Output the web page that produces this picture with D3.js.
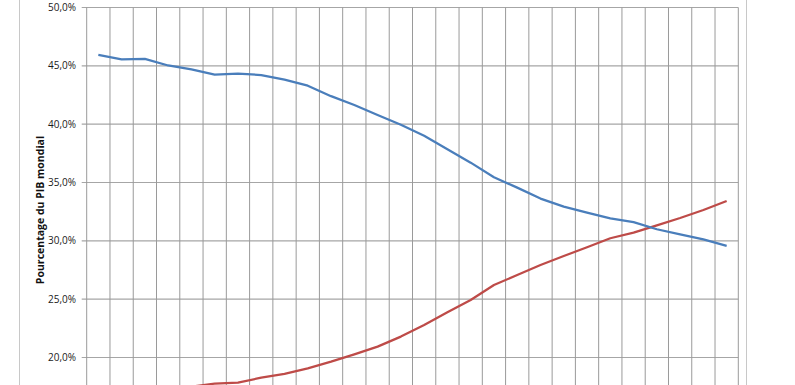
<!DOCTYPE html>
<html>
<head>
<meta charset="utf-8">
<script src="https://cdn.jsdelivr.net/npm/d3@7"></script>
<style>
	html, body { margin: 0; padding: 0; background: #fff; overflow: hidden; }
	svg { display: block; }
	.tick-label { font-family: "Open Sans", sans-serif; font-size: 10px; fill: #1a1a1a; }
	.axis-title { font-family: "Open Sans", sans-serif; font-size: 10.5px; font-weight: bold; fill: #111; }
</style>
</head>
<body>
<div id="chart"></div>
<script>
(function () {
	// categories (x axis labels are cut off in the picture)
	let years = [1980,1981,1982,1983,1984,1985,1986,1987,1988,1989,1990,1991,1992,1993,
		1994,1995,1996,1997,1998,1999,2000,2001,2002,2003,2004,2005,2006,2007];

	// share of world GDP, in percent
	let seriesBlue = [45.93,45.56,45.59,45.03,44.70,44.24,44.33,44.21,43.81,43.30,42.40,41.64,40.79,39.95,
		39.00,37.85,36.70,35.45,34.56,33.62,32.93,32.41,31.93,31.60,30.99,30.56,30.13,29.57];
	let seriesRed = [17.20,17.10,17.00,17.20,17.50,17.76,17.84,18.27,18.59,19.07,19.64,20.27,20.93,21.79,
		22.79,23.88,24.93,26.21,27.07,27.93,28.70,29.45,30.22,30.70,31.33,31.96,32.64,33.41];

	let yTicks = [0,0.05,0.10,0.15,0.20,0.25,0.30,0.35,0.40,0.45,0.50];
	// only these labels are visible in the cropped picture
	let yLabels = [0.20,0.25,0.30,0.35,0.40,0.45,0.50];

	let globalVars = {};
	globalVars.width = 795;
	globalVars.height = 385;
	globalVars.plotLeft = 86.7;
	globalVars.plotRight = 738.3;
	globalVars.plotTop = 7.5;
	globalVars.plotBottom = 590.8;

	let frLocale = d3.formatLocale({decimal: ",", thousands: " ", grouping: [3], currency: ["", " €"]});
	let pctFormat = frLocale.format(".1%");

	let svg = d3.select("#chart")
		.append("svg")
		.attr("width", globalVars.width)
		.attr("height", globalVars.height);

	let x = d3.scaleBand()
		.domain(years)
		.range([globalVars.plotLeft, globalVars.plotRight]);

	let y = d3.scaleLinear()
		.domain([0, 0.5])
		.range([globalVars.plotBottom, globalVars.plotTop]);

	// chart frame
	svg.append("line")
		.attr("x1", 19.5).attr("x2", 19.5)
		.attr("y1", 0).attr("y2", globalVars.height)
		.attr("stroke", "#c8c8c8").attr("stroke-width", 1);
	svg.append("line")
		.attr("x1", 746.5).attr("x2", 746.5)
		.attr("y1", 0).attr("y2", globalVars.height)
		.attr("stroke", "#c8c8c8").attr("stroke-width", 1);

	// horizontal gridlines + ticks
	svg.append("g")
		.selectAll("line")
		.data(yTicks)
		.enter()
		.append("line")
		.attr("x1", globalVars.plotLeft - 5)
		.attr("x2", globalVars.plotRight)
		.attr("y1", function(d){ return y(d); })
		.attr("y2", function(d){ return y(d); })
		.attr("stroke", "#a6a6a6")
		.attr("stroke-width", 1.2);

	// vertical gridlines at category boundaries
	let boundaries = years.map(function(d){ return x(d); }).concat([globalVars.plotRight]);
	svg.append("g")
		.selectAll("line")
		.data(boundaries)
		.enter()
		.append("line")
		.attr("x1", function(d){ return d; })
		.attr("x2", function(d){ return d; })
		.attr("y1", globalVars.plotTop)
		.attr("y2", globalVars.plotBottom)
		.attr("stroke", "#9a9a9a")
		.attr("stroke-width", 1);

	// y labels
	svg.append("g")
		.selectAll("text")
		.data(yLabels)
		.enter()
		.append("text")
		.attr("class", "tick-label")
		.attr("x", 76)
		.attr("y", function(d){ return y(d); })
		.attr("dy", "0.35em")
		.attr("text-anchor", "end")
		.text(function(d){ return pctFormat(d); });

	svg.append("text")
		.attr("class", "axis-title")
		.attr("transform", "translate(44,210) rotate(-90)")
		.attr("text-anchor", "middle")
		.text("Pourcentage du PIB mondial");

	let line = d3.line()
		.x(function(d, i){ return x(years[i]) + x.bandwidth() / 2; })
		.y(function(d){ return y(d / 100); });

	svg.append("path")
		.datum(seriesRed)
		.attr("d", line)
		.attr("fill", "none")
		.attr("stroke", "#be4b48")
		.attr("stroke-width", 2.25)
		.attr("stroke-linejoin", "round");

	svg.append("path")
		.datum(seriesBlue)
		.attr("d", line)
		.attr("fill", "none")
		.attr("stroke", "#4a7ebb")
		.attr("stroke-width", 2.25)
		.attr("stroke-linejoin", "round");
})();
</script>
</body>
</html>
